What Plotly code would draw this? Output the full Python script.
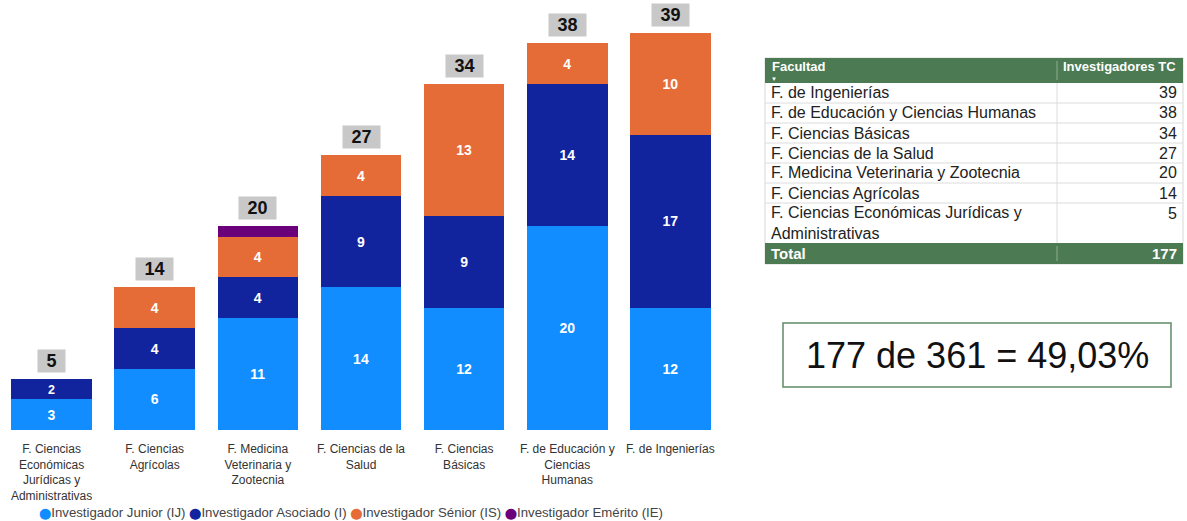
import plotly.graph_objects as go

categories = [
    "F. Ciencias Económicas Jurídicas y Administrativas",
    "F. Ciencias Agrícolas",
    "F. Medicina Veterinaria y Zootecnia",
    "F. Ciencias de la Salud",
    "F. Ciencias Básicas",
    "F. de Educación y Ciencias Humanas",
    "F. de Ingenierías",
]
tick_labels = [
    "F. Ciencias<br>Económicas<br>Jurídicas y<br>Administrativas",
    "F. Ciencias<br>Agrícolas",
    "F. Medicina<br>Veterinaria y<br>Zootecnia",
    "F. Ciencias de la<br>Salud",
    "F. Ciencias<br>Básicas",
    "F. de Educación y<br>Ciencias<br>Humanas",
    "F. de Ingenierías",
]
junior = [3, 6, 11, 14, 12, 20, 12]
asociado = [2, 4, 4, 9, 9, 14, 17]
senior = [0, 4, 4, 4, 13, 4, 10]
emerito = [0, 0, 1, 0, 0, 0, 0]

series_names = ["Investigador Junior (IJ)", "Investigador Asociado (I)",
                "Investigador Sénior (IS)", "Investigador Emérito (IE)"]
series_colors = ["#118DFF", "#12239E", "#E66C37", "#6B007B"]

table_header = ["Facultad", "Investigadores TC"]
table_facultad = [
    "F. de Ingenierías",
    "F. de Educación y Ciencias Humanas",
    "F. Ciencias Básicas",
    "F. Ciencias de la Salud",
    "F. Medicina Veterinaria y Zootecnia",
    "F. Ciencias Agrícolas",
    "F. Ciencias Económicas Jurídicas y<br>Administrativas",
]
table_values = [39, 38, 34, 27, 20, 14, 5]
total_label = "Total"
total_value = 177
summary_text = "177 de 361 = 49,03%"

FONT = "Liberation Sans, Arial, sans-serif"
W, H = 1187, 521
PLOT_BOTTOM = 430  # px from top where the bars sit


def px(xp):
    return xp / W


def py(yp):
    return 1 - yp / PLOT_BOTTOM


fig = go.Figure()

all_series = [junior, asociado, senior, emerito]
for vals, name, color in zip(all_series, series_names, series_colors):
    fig.add_trace(go.Bar(
        x=categories, y=vals, name=name, marker_color=color,
        marker_line_width=0,
        text=[str(v) if v >= 2 else "" for v in vals],
        texttemplate="<b>%{text}</b>",
        textposition="inside", insidetextanchor="middle", textangle=0,
        textfont=dict(color="white", size=14, family=FONT),
        showlegend=False,
    ))

totals = [a + b + c + d for a, b, c, d in zip(junior, asociado, senior, emerito)]
for cat, t in zip(categories, totals):
    fig.add_annotation(
        x=cat, y=t, xref="x", yref="y", text=f"<b>{t}</b>",
        showarrow=False, yanchor="bottom", yshift=6,
        width=15 + 10 * len(str(t)), height=20,
        bgcolor="#C8C8C8", borderpad=1,
        font=dict(size=18, color="#111", family=FONT),
    )

# legend drawn as one line of text with coloured dots
legend_parts = [f"<span style='color:{c};font-family:DejaVu Sans;font-size:11px'>⬤</span>{n}"
                for n, c in zip(series_names, series_colors)]
fig.add_annotation(x=px(351), y=py(512), xref="paper", yref="paper",
                   xanchor="center", yanchor="middle", showarrow=False,
                   text=" ".join(legend_parts), borderpad=0,
                   font=dict(size=13.2, color="#444", family=FONT))

# ---- Table drawn with shapes and text ----
hdr_green = "#4B7A53"
TX0, TX1, TSEP = 765, 1183, 1057
HDR_Y0, HDR_Y1 = 58, 83
ROW_H = 20
row_heights = [ROW_H * (1 + f.count("<br>")) for f in table_facultad]
row_tops = []
y = HDR_Y1
for h in row_heights:
    row_tops.append(y)
    y += h
TOT_Y0, TOT_Y1 = y, y + 21

fig.add_shape(type="rect", xref="paper", yref="paper", layer="below",
              x0=px(TX0), x1=px(TX1), y0=py(TOT_Y1), y1=py(HDR_Y0),
              line=dict(color="#D8D8D8", width=1), fillcolor="white")
for y0, y1 in [(HDR_Y0, HDR_Y1), (TOT_Y0, TOT_Y1)]:
    fig.add_shape(type="rect", xref="paper", yref="paper",
                  x0=px(TX0), x1=px(TX1), y0=py(y1), y1=py(y0),
                  line=dict(width=0), fillcolor=hdr_green)
    fig.add_shape(type="line", xref="paper", yref="paper",
                  x0=px(TSEP), x1=px(TSEP), y0=py(y1 - 3), y1=py(y0 + 3),
                  line=dict(color="#8FAE95", width=1))
for top in row_tops[1:]:
    fig.add_shape(type="line", xref="paper", yref="paper",
                  x0=px(TX0), x1=px(TX1), y0=py(top), y1=py(top),
                  line=dict(color="#DCDCDC", width=1))
fig.add_shape(type="line", xref="paper", yref="paper",
              x0=px(TSEP), x1=px(TSEP), y0=py(TOT_Y0), y1=py(HDR_Y1),
              line=dict(color="#DCDCDC", width=1))

# header texts
for txt, xx, anchor in [(table_header[0], TX0 + 5, "left"), (table_header[1], TX1 - 5, "right")]:
    fig.add_annotation(x=px(xx), y=py(HDR_Y0 - 1), xref="paper", yref="paper",
                       xanchor=anchor, yanchor="top", showarrow=False,
                       text=f"<b>{txt}</b>",
                       font=dict(size=13, color="white", family=FONT))
fig.add_annotation(x=px(TX0 + 9), y=py(HDR_Y1 - 4), xref="paper", yref="paper",
                   xanchor="center", yanchor="middle", showarrow=False,
                   text="▼", font=dict(size=6, color="white", family=FONT))

# body texts
for f, v, top, h in zip(table_facultad, table_values, row_tops, row_heights):
    fig.add_annotation(x=px(TX0 + 4), y=py(top + h / 2), xref="paper", yref="paper",
                       xanchor="left", yanchor="middle", showarrow=False,
                       text=f, align="left",
                       font=dict(size=16, color="#222", family=FONT))
    fig.add_annotation(x=px(TX1 - 4), y=py(top + ROW_H / 2), xref="paper", yref="paper",
                       xanchor="right", yanchor="middle", showarrow=False,
                       text=str(v),
                       font=dict(size=16, color="#222", family=FONT))
for txt, xx, anchor in [(total_label, TX0 + 4, "left"), (str(total_value), TX1 - 4, "right")]:
    fig.add_annotation(x=px(xx), y=py((TOT_Y0 + TOT_Y1) / 2), xref="paper", yref="paper",
                       xanchor=anchor, yanchor="middle", showarrow=False,
                       text=f"<b>{txt}</b>",
                       font=dict(size=15, color="white", family=FONT))

# ---- summary box ----
fig.add_shape(type="rect", xref="paper", yref="paper",
              x0=px(783), x1=px(1171), y0=py(387), y1=py(323),
              line=dict(color="#5E8A66", width=1.5), fillcolor="white")
fig.add_annotation(x=px(977), y=py(355), xref="paper", yref="paper",
                   xanchor="center", yanchor="middle",
                   text=summary_text, showarrow=False,
                   font=dict(size=36, color="#111", family=FONT))

fig.update_layout(
    width=W, height=H,
    margin=dict(l=0, r=0, t=0, b=H - PLOT_BOTTOM, pad=0),
    barmode="stack", bargap=0.22,
    plot_bgcolor="white", paper_bgcolor="white",
    font=dict(family=FONT, color="#333"),
    showlegend=False,
    xaxis=dict(domain=[0, 722 / W], tickvals=categories, ticktext=tick_labels,
               tickfont=dict(size=12, color="#333", family=FONT),
               showline=False, showgrid=False, ticks="", ticklabelstandoff=10),
    yaxis=dict(range=[0, PLOT_BOTTOM / 10.18], visible=False, showgrid=False),
)

fig.write_html("out.html", config={"displayModeBar": False},
               post_script="document.body.style.margin='0px';document.body.style.overflow='hidden';")
